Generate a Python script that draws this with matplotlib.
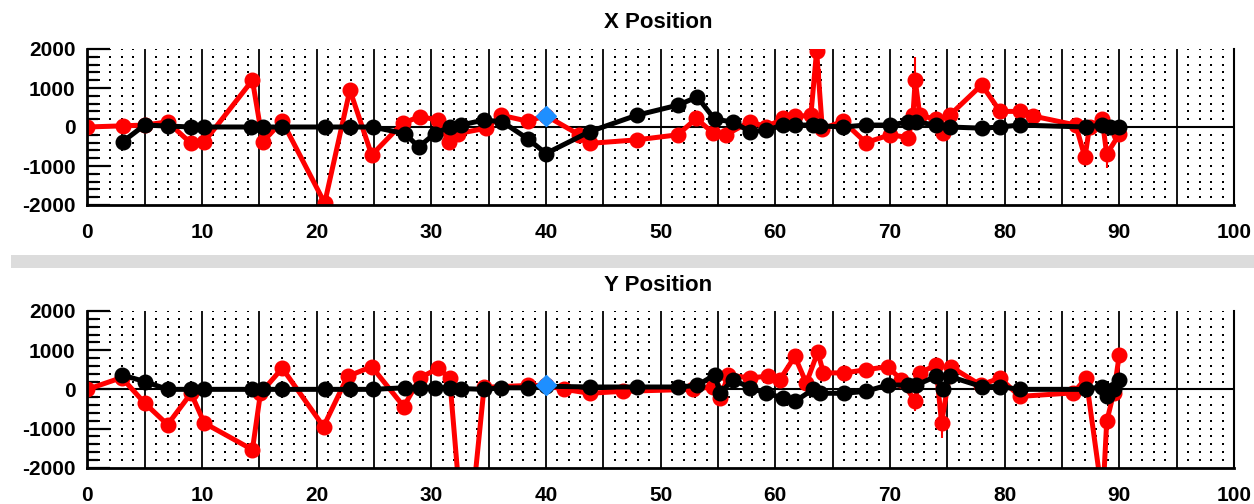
import numpy as np
import matplotlib
matplotlib.use("Agg")
import matplotlib.pyplot as plt
from matplotlib.patches import Rectangle

plt.rcParams['font.family'] = ['Liberation Sans', 'DejaVu Sans']
plt.rcParams['font.weight'] = 'bold'

# ---- X position traces ----
x_red_t = [0, 3.1, 5.0, 7.0, 9.05, 10.2, 14.4, 15.3, 17.0, 20.7, 22.9, 24.8,
           27.5, 29.0, 30.6, 31.5, 32.3, 34.8, 36.1, 38.4, 40.0, 42.9, 43.8, 47.9,
           51.5, 53.1, 54.6, 55.7, 57.8, 59.2, 60.7, 61.7, 63.1, 63.6, 64.1,
           65.9, 67.9, 70.0, 71.6, 72.0, 72.2, 72.6, 74.0, 74.6, 75.2, 78.0, 79.6,
           81.3, 82.5, 86.2, 87.0, 87.4, 88.5, 88.9, 90.0]
x_red_v = [0, 30, 50, 130, -420, -380, 1200, -380, 150, -1950, 950, -720,
           100, 265, 180, -375, -170, -30, 300, 150, 290, -200, -420, -330,
           -200, 220, -160, -200, 140, 0, 220, 270, 300, 1950, -50,
           150, -400, -200, -270, 300, 1200, 300, 200, -150, 300, 1080, 400,
           400, 280, 50, -780, 0, 210, -700, -180]

x_blk_t = [3.1, 5.0, 7.0, 9.05, 10.2, 14.3, 15.3, 17.0, 20.7, 22.9, 24.9, 27.7,
           28.9, 30.3, 31.6, 32.6, 34.6, 36.2, 38.4, 40.0, 43.8, 47.9, 51.5, 53.2,
           54.7, 56.3, 57.8, 59.2, 60.7, 61.7, 63.3, 63.9, 65.9, 67.9, 70.0, 71.6,
           72.3, 74.0, 75.2, 78.0, 79.6, 81.3, 87.1, 88.5, 89.2, 90.0]
x_blk_v = [-375, 50, 25, 0, 0, 0, 0, 0, 0, 0, 0, -170,
           -510, -170, 0, 50, 180, 130, -300, -680, -120, 300, 560, 770,
           200, 130, -120, -80, 50, 50, 50, 30, 0, 50, 50, 130,
           130, 50, 0, -30, 0, 50, 0, 50, 0, 0]

x_spike_t = [63.9, 72.2, 88.9]
x_spike_lo = [300, 1200, -700]
x_spike_hi = [1500, 1800, -1050]

x_mark_t, x_mark_v = [40.0], [290]

# ---- Y position traces ----
y_red_t = [0, 3.0, 5.0, 7.0, 9.05, 10.2, 14.4, 15.1, 17.0, 20.6, 22.7, 24.8,
           27.6, 29.0, 30.6, 31.6, 33.0, 34.6, 38.4, 40.0, 41.6, 43.8, 46.7,
           52.8, 54.6, 55.2, 55.9, 57.8, 59.4, 60.4, 61.7, 62.7, 63.7, 64.2,
           66.0, 67.9, 69.8, 71.0, 72.2, 72.6, 74.0, 74.5, 75.3, 77.9, 79.6,
           81.3, 86.0, 87.1, 88.55, 88.9, 89.5, 90.0]
y_red_v = [0, 300, -350, -900, -100, -860, -1540, -100, 540, -950, 330, 580,
           -440, 290, 540, 290, -4600, 50, 100, 100, 0, -100, -50,
           0, 70, -220, 370, 290, 340, 250, 840, 160, 950, 420,
           420, 500, 580, 240, -310, 420, 620, -860, 580, 110, 290,
           -180, -90, 290, -2800, -820, -100, 880]

y_blk_t = [3.0, 5.0, 7.0, 9.05, 10.2, 14.4, 15.3, 17.0, 20.7, 22.9, 24.9, 27.7,
           29.0, 30.3, 31.6, 32.6, 34.6, 36.1, 38.4, 40.0, 43.8, 47.9, 51.5, 53.2,
           54.7, 55.2, 56.3, 57.8, 59.2, 60.7, 61.7, 63.3, 63.9, 66.0, 67.9, 69.8,
           71.6, 72.3, 74.0, 74.6, 75.2, 78.0, 79.6, 81.3, 87.1, 88.5, 88.9, 89.5,
           90.0]
y_blk_v = [370, 200, 0, 0, 0, 0, 0, 0, 0, 0, 0, 40,
           40, 40, 40, 20, 0, 40, 40, 80, 60, 60, 60, 100,
           370, -100, 250, 40, -100, -220, -310, 0, -100, -100, -50, 110,
           110, 110, 330, 20, 330, 70, 70, 0, 0, 70, -180, 0,
           240]

y_spike_t = [72.2, 74.5]
y_spike_lo = [-310, -860]
y_spike_hi = [-550, -1250]

y_mark_t, y_mark_v = [40.0], [100]

x_ticks = list(range(0, 101, 10))
y_major = [-2000, -1000, 0, 1000, 2000]
y_minor = list(range(-2000, 2001, 200))

W, H = 1254, 504
fig = plt.figure(figsize=(W / 100, H / 100), dpi=100)
fig.patch.set_facecolor('white')

# separator strip between the two panels
fig.patches.append(Rectangle((11 / W, 1 - 268 / H), (W - 11) / W, 13 / H,
                             transform=fig.transFigure, facecolor='#dcdcdc',
                             edgecolor='none'))


def panel(rect, title, title_y, red_t, red_v, blk_t, blk_v,
          sp_t, sp_lo, sp_hi, mk_t, mk_v):
    ax = fig.add_axes(rect)
    ax.set_xlim(0, 100)
    ax.set_ylim(-2000, 2000)
    ax.set_facecolor('white')

    # dotted background grid
    gx = [v for v in range(1, 100) if v % 5 != 0]
    gy = [v for v in range(-1800, 2001, 200) if v != 0]
    GX, GY = np.meshgrid(gx, gy)
    ax.scatter(GX.ravel(), GY.ravel(), s=1.6, marker='s', color='black',
               linewidths=0, zorder=0.5)
    # solid vertical lines every 5 units and the zero line
    for v in range(5, 100, 5):
        ax.axvline(v, color='black', lw=1.3, zorder=0.6)
    ax.axhline(0, color='black', lw=1.5, zorder=0.6)

    ax.vlines(sp_t, sp_lo, sp_hi, color='#ff0000', lw=1.5, zorder=2)
    ax.plot(red_t, red_v, '-o', color='#ff0000', lw=3.6, ms=10.5, zorder=2)
    ax.plot(blk_t, blk_v, '-o', color='black', lw=3.6, ms=10.5, zorder=3)
    ax.plot(mk_t, mk_v, 'D', color='#1e8fff', ms=10.5, mec='#1e8fff', zorder=4)

    ax.spines['top'].set_visible(False)
    ax.spines['left'].set_linewidth(2)
    ax.spines['bottom'].set_linewidth(2)
    ax.spines['right'].set_linewidth(1.5)

    ax.set_xticks(x_ticks)
    ax.set_xticklabels([str(v) for v in x_ticks])
    ax.tick_params(axis='x', length=0, pad=13, labelsize=15)
    ax.set_yticks(y_major)
    ax.set_yticklabels([str(v) for v in y_major])
    ax.set_yticks(y_minor, minor=True)
    ax.tick_params(axis='y', which='major', direction='in', length=16.5,
                   width=1.6, pad=8.6, labelsize=15)
    ax.tick_params(axis='y', which='minor', direction='in', length=8,
                   width=1.6)
    for lab in ax.get_xticklabels() + ax.get_yticklabels():
        lab.set_fontweight('bold')

    fig.text(658 / W, 1 - title_y / H, title, ha='center', va='center',
             fontsize=16, fontweight='bold')
    return ax


left = 87.3 / W
width = (1234 - 87.3) / W
panel([left, 1 - 205 / H, width, 156 / H], 'X Position', 23,
      x_red_t, x_red_v, x_blk_t, x_blk_v,
      x_spike_t, x_spike_lo, x_spike_hi, x_mark_t, x_mark_v)
panel([left, 1 - 467.7 / H, width, 156.7 / H], 'Y Position', 285.5,
      y_red_t, y_red_v, y_blk_t, y_blk_v,
      y_spike_t, y_spike_lo, y_spike_hi, y_mark_t, y_mark_v)

fig.savefig('out.png', dpi=100)
